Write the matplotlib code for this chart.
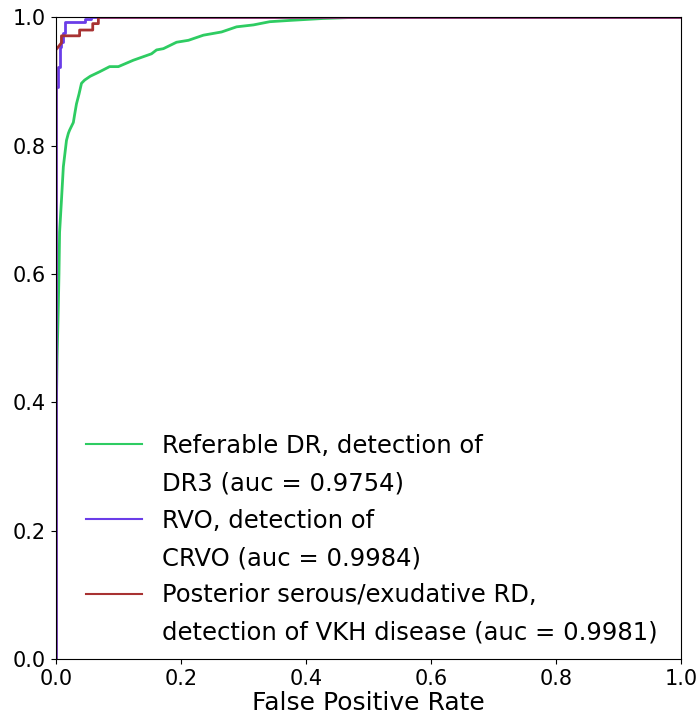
import matplotlib
matplotlib.use("Agg")
import matplotlib.pyplot as plt
from matplotlib.lines import Line2D

# ROC curves
dr_fpr = [0.0, 0.0, 0.001, 0.002, 0.004, 0.005, 0.006, 0.009, 0.012, 0.017, 0.020,
          0.022, 0.028, 0.030, 0.033, 0.037, 0.041, 0.046, 0.055, 0.070, 0.086, 0.100,
          0.124, 0.153, 0.161, 0.172, 0.193, 0.212, 0.236, 0.265, 0.289, 0.316, 0.342,
          0.374, 0.427, 0.486, 1.0]
dr_tpr = [0.0, 0.30, 0.40, 0.47, 0.55, 0.60, 0.665, 0.715, 0.767, 0.808, 0.819,
          0.824, 0.836, 0.848, 0.865, 0.880, 0.897, 0.902, 0.908, 0.915, 0.923, 0.923,
          0.933, 0.943, 0.949, 0.951, 0.961, 0.964, 0.972, 0.977, 0.985, 0.988, 0.993,
          0.995, 0.998, 1.0, 1.0]

rvo_fpr = [0.0, 0.0, 0.004, 0.004, 0.006, 0.006, 0.009, 0.009, 0.012, 0.012, 0.014,
           0.014, 0.046, 0.046, 0.052, 0.052, 0.057, 0.057, 1.0]
rvo_tpr = [0.0, 0.891, 0.891, 0.923, 0.923, 0.954, 0.954, 0.962, 0.962, 0.975, 0.975,
           0.993, 0.993, 0.997, 0.997, 0.997, 0.997, 1.0, 1.0]

vkh_fpr = [0.0, 0.0, 0.009, 0.009, 0.038, 0.038, 0.059, 0.059, 0.068, 0.068, 1.0]
vkh_tpr = [0.0, 0.949, 0.960, 0.971, 0.971, 0.980, 0.980, 0.990, 0.990, 1.0, 1.0]

labels = [("Referable DR, detection of", "DR3 (auc = 0.9754)"),
          ("RVO, detection of", "CRVO (auc = 0.9984)"),
          ("Posterior serous/exudative RD,", "detection of VKH disease (auc = 0.9981)")]
colors = ["#2ecc62", "#6a3de8", "#a83232"]

fig = plt.figure(figsize=(6.98, 7.17), dpi=100)
ax = fig.add_axes([0.080, 0.081, 0.896, 0.895])

curves = [(dr_fpr, dr_tpr), (rvo_fpr, rvo_tpr), (vkh_fpr, vkh_tpr)]
handles, names = [], []
for (x, y), lab, c in zip(curves, labels, colors):
    ax.plot(x, y, color=c, lw=2)
    # legend handle sits on the first line of each two-line label
    handles += [Line2D([], [], color=c, lw=1.5), Line2D([], [], color="none")]
    names += list(lab)

ax.set_xlim(0, 1)
ax.set_ylim(0, 1)
ax.tick_params(labelsize=15)
ax.set_xlabel("False Positive Rate", fontsize=18, labelpad=2)

ax.legend(handles, names, loc="lower left", bbox_to_anchor=(0.013, -0.012),
          frameon=False, fontsize=17.5, handlelength=2.3, handletextpad=0.85,
          labelspacing=0.55)

fig.savefig("out.png", dpi=100)
